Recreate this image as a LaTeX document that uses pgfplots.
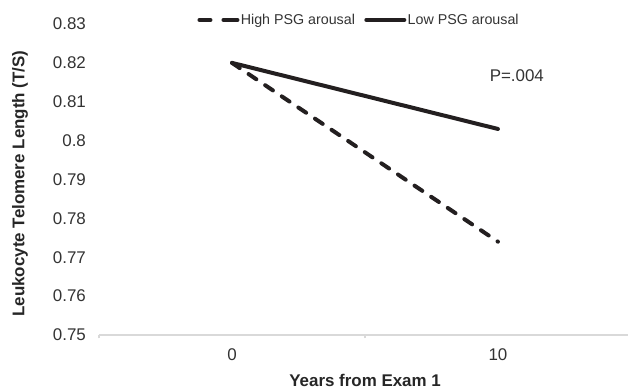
\documentclass[border=0pt]{standalone}
\usepackage{fontspec}
\setmainfont{Liberation Sans}
\usepackage{pgfplots}
\pgfplotsset{compat=1.18}
\definecolor{lc}{RGB}{35,31,32}
\definecolor{tc}{RGB}{51,51,51}
\definecolor{ttc}{RGB}{38,38,38}
\definecolor{ac}{RGB}{217,217,217}
\pgfplotsset{dashleg/.style={legend image code/.code={\draw[##1, solid] (1.5pt,0pt) -- (9.75pt,0pt); \draw[##1, solid] (19.5pt,0pt) -- (30pt,0pt);}}}
\begin{document}
\begin{tikzpicture}
\path[use as bounding box] (-74.25pt,-39.75pt) rectangle (397.5pt,251.25pt);
\begin{axis}[
  scale only axis, width=396.75pt, height=233.25pt,
  xmin=0, xmax=1.989, ymin=0.75, ymax=0.83,
  clip=false,
  axis x line*=bottom, axis y line*=left,
  y axis line style={draw=none},
  x axis line style={ac, line width=1.1pt},
  tick align=outside,
  major tick length=2.6pt,
  xtick={0,1}, xticklabels={},
  x tick style={ac, line width=1.1pt},
  y tick style={draw=none},
  extra x ticks={0.5,1.5}, extra x tick labels={0,10},
  extra x tick style={tick style={draw=none}},
  ytick={0.75,0.76,0.77,0.78,0.79,0.8,0.81,0.82,0.83},
  /pgf/number format/assume math mode=true,
  tick label style={font=\fontsize{12.7}{14}\selectfont, text=tc},
  yticklabel style={xshift=-3.7pt},
  xticklabel style={yshift=-4.4pt},
  xlabel={Years from Exam 1},
  ylabel={Leukocyte Telomere Length (T/S)},
  xlabel style={font=\bfseries\fontsize{12.7}{14}\selectfont, text=ttc, at={([yshift=-33.75pt]axis description cs:0.503,0)}, anchor=center},
  ylabel style={font=\bfseries\fontsize{12.7}{14}\selectfont, text=ttc, at={([xshift=-59.25pt]axis description cs:0,0.487)}, anchor=center},
  legend style={at={(axis description cs:0.491,1.013)}, anchor=center, draw=none, fill=none,
    font=\fontsize{10.7}{12}\selectfont, text=tc,
    /tikz/every even column/.append style={column sep=6pt},
    nodes={inner xsep=1pt, inner ysep=1pt}},
  legend columns=2,
  legend image code/.code={\draw[#1] (1.5pt,0pt) -- (30pt,0pt);},
]
\addplot[lc, line width=3pt, line cap=round, dash pattern=on 7pt off 8pt, dashleg]
  coordinates {(0.5,0.82) (1.5,0.774)};
\addlegendentry{High PSG arousal}
\addplot[lc, line width=3pt, line cap=round] coordinates {(0.5,0.82) (1.5,0.803)};
\addlegendentry{Low PSG arousal}
\node[font=\fontsize{12.7}{14}\selectfont, text=tc] at (axis cs:1.571,0.8168) {P=.004};
\end{axis}
\end{tikzpicture}
\end{document}
